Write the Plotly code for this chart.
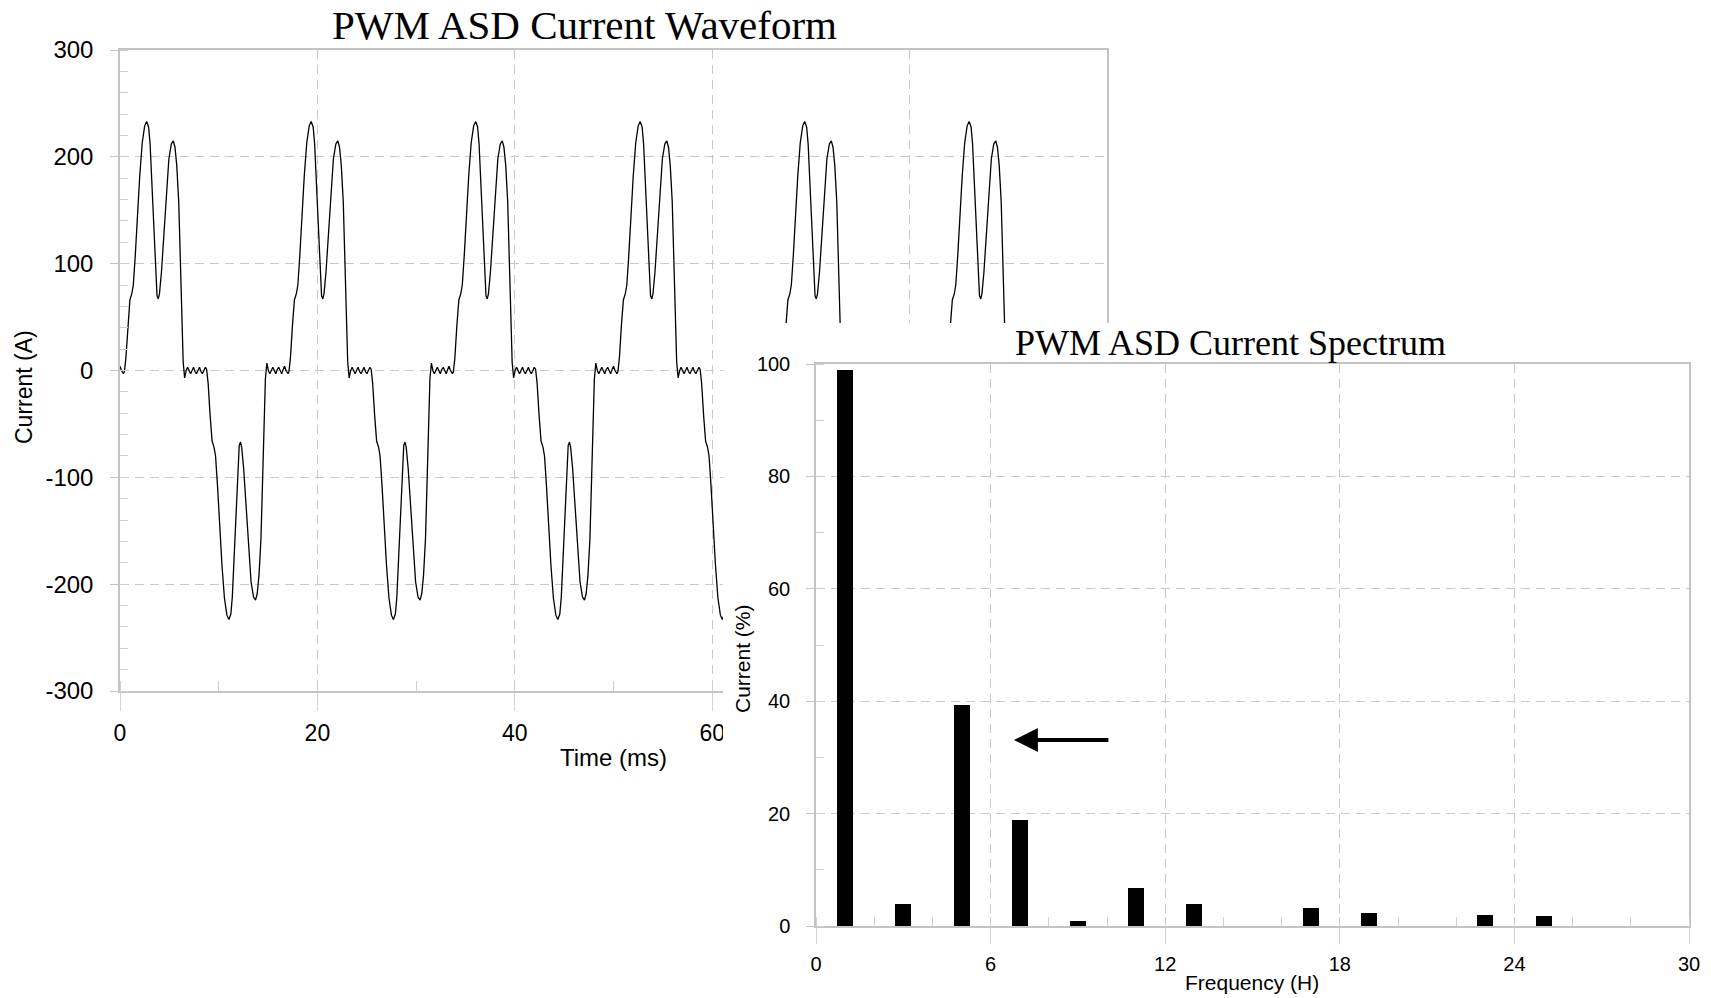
import plotly.graph_objects as go

# ---------------- data ----------------
# One period of the PWM ASD current waveform (time in ms, current in A)
CYCLE_T = [0.00, 0.15, 0.35, 0.45, 0.60, 0.80, 1.00, 1.20, 1.35, 1.55, 1.75, 2.00, 2.25, 2.50,
           2.70, 2.90, 3.05, 3.22, 3.40, 3.60, 3.75, 3.88, 4.00, 4.20, 4.45, 4.70, 4.95, 5.20,
           5.40, 5.57, 5.75, 5.95, 6.10, 6.25, 6.40, 6.55, 6.70, 6.85, 7.00, 7.15, 7.30, 7.45,
           7.60, 7.75, 7.90, 8.05, 8.20, 8.35, 8.50, 8.65, 8.78, 8.93, 9.13, 9.33, 9.53, 9.68,
           9.88, 10.08, 10.33, 10.58, 10.83, 11.03, 11.23, 11.38, 11.55, 11.73, 11.93, 12.08,
           12.21, 12.33, 12.53, 12.78, 13.03, 13.28, 13.53, 13.73, 13.90, 14.08, 14.28, 14.43,
           14.58, 14.73, 14.88, 15.03, 15.18, 15.33, 15.48, 15.63, 15.78, 15.93, 16.08, 16.23,
           16.38, 16.53]
CYCLE_I = [4, 0, -3, -1, 12, 42, 66, 72, 80, 108, 142, 182, 213, 229,
           233, 228, 212, 176, 130, 88, 70, 67, 72, 92, 128, 168, 198, 212,
           215, 209, 192, 158, 110, 55, 8, -7, 0, 3, -1, -3, 0, 3,
           -1, -3, 0, 3, -1, -3, 0, 3, 1, -12, -42, -66, -72, -80,
           -108, -142, -182, -213, -229, -233, -228, -212, -176, -130, -88, -70,
           -67, -72, -92, -128, -168, -198, -212, -215, -209, -192, -158, -110,
           -55, -8, 7, 0, -3, 1, 3, 0, -3, 1, 3, 0,
           -3, 1]
CYCLE_STARTS = [0.0, 16.67, 33.33, 50.0, 66.67, 83.33]
END_T, END_I = 100.0, 4

# Harmonic spectrum (harmonic order, % of fundamental)
HARMONIC = [1, 3, 5, 7, 9, 11, 13, 17, 19, 23, 25]
SPECTRUM_PCT = [99.0, 4.0, 39.3, 18.8, 0.9, 6.8, 3.9, 3.25, 2.4, 1.9, 1.8]

WAVE_XTICKS = [0, 20, 40, 60, 80, 100]
WAVE_XTEXT = ["0", "20", "40", "60", "80", "100"]
WAVE_YTICKS = [-300, -200, -100, 0, 100, 200, 300]
WAVE_YTEXT = ["-300", "-200", "-100", "0", "100", "200", "300"]
SPEC_XTICKS = [0, 6, 12, 18, 24, 30]
SPEC_XTEXT = ["0", "6", "12", "18", "24", "30"]
SPEC_YTICKS = [0, 20, 40, 60, 80, 100]
SPEC_YTEXT = ["0", "20", "40", "60", "80", "100"]

# ---------------- build ----------------
W, H = 1711, 998
def px(x):
    return x / W
def py(y):
    return 1 - y / H

wave_t = [s + t for s in CYCLE_STARTS for t in CYCLE_T] + [END_T]
wave_i = [v for s in CYCLE_STARTS for v in CYCLE_I] + [END_I]

GRID = "#c9c9c9"
AXIS = "#c4c4c4"
SANS = "Liberation Sans, Arial, sans-serif"
SERIF = "Liberation Serif, Times New Roman, serif"

fig = go.Figure()
fig.add_trace(go.Scatter(x=wave_t, y=wave_i, mode="lines",
                         line=dict(color="black", width=1.3),
                         xaxis="x", yaxis="y", showlegend=False, hoverinfo="skip"))
# blank panel that hides part of the waveform chart (the spectrum's background)
fig.add_trace(go.Scatter(x=[0], y=[0], mode="markers", marker=dict(opacity=0),
                         xaxis="x2", yaxis="y2", showlegend=False, hoverinfo="skip"))
fig.add_trace(go.Bar(x=HARMONIC, y=SPECTRUM_PCT, width=0.55,
                     marker=dict(color="black", line=dict(width=0)),
                     xaxis="x3", yaxis="y3", showlegend=False, hoverinfo="skip"))

common_axis = dict(showline=True, linecolor=AXIS, linewidth=1.5, mirror=True,
                   showgrid=True, gridcolor=GRID, gridwidth=1, griddash="9px,6px",
                   zeroline=False, automargin=False, fixedrange=True)

fig.update_layout(
    width=W, height=H, autosize=False, showlegend=False,
    margin=dict(l=0, r=0, t=0, b=0, pad=0, autoexpand=False),
    paper_bgcolor="white", plot_bgcolor="white",
    xaxis=dict(common_axis, domain=[px(120), px(1107)], range=[0, 100], anchor="y",
               tickmode="array", tickvals=WAVE_XTICKS, ticktext=WAVE_XTEXT,
               ticks="outside", ticklen=18, tickcolor="#d4d4d4", tickwidth=1,
               ticklabelstandoff=3, tickfont=dict(family=SANS, size=23, color="black"),
               minor=dict(dtick=10, ticks="inside", ticklen=10, tickcolor="#cfcfcf",
                          tickwidth=1, showgrid=False)),
    yaxis=dict(common_axis, domain=[py(691), py(50)], range=[-300, 300], anchor="x",
               tickmode="array", tickvals=WAVE_YTICKS, ticktext=WAVE_YTEXT,
               ticks="outside", ticklen=8, tickcolor=AXIS, tickwidth=1,
               ticklabelstandoff=12, tickfont=dict(family=SANS, size=24, color="black"),
               minor=dict(dtick=20, ticks="inside", ticklen=8, tickcolor="#cfcfcf",
                          tickwidth=1, showgrid=False)),
    xaxis2=dict(domain=[px(723), 1.0], anchor="y2", visible=False, range=[0, 1],
                fixedrange=True, automargin=False),
    yaxis2=dict(domain=[0.0, py(323)], anchor="x2", visible=False, range=[0, 1],
                fixedrange=True, automargin=False),
    xaxis3=dict(common_axis, domain=[px(816), px(1689)], range=[0, 30], anchor="y3",
                tickmode="array", tickvals=SPEC_XTICKS, ticktext=SPEC_XTEXT,
                ticks="outside", ticklen=16, tickcolor="#d4d4d4", tickwidth=1,
                ticklabelstandoff=3, tickfont=dict(family=SANS, size=20, color="black"),
                minor=dict(dtick=2, ticks="inside", ticklen=9, tickcolor="#cfcfcf",
                           tickwidth=1, showgrid=False)),
    yaxis3=dict(common_axis, domain=[py(926), py(364)], range=[0, 100], anchor="x3",
                tickmode="array", tickvals=SPEC_YTICKS, ticktext=SPEC_YTEXT,
                ticks="outside", ticklen=8, tickcolor=AXIS, tickwidth=1,
                ticklabelstandoff=12, tickfont=dict(family=SANS, size=20, color="black"),
                minor=dict(dtick=10, ticks="inside", ticklen=8, tickcolor="#cfcfcf",
                           tickwidth=1, showgrid=False)),
    bargap=0,
)

ann = []
ann.append(dict(text="PWM ASD Current Waveform", x=px(584), y=py(25), xref="paper", yref="paper",
                showarrow=False, xanchor="center", yanchor="middle",
                font=dict(family=SERIF, size=41, color="black")))
ann.append(dict(text="PWM ASD Current Spectrum", x=px(1230), y=py(343), xref="paper", yref="paper",
                showarrow=False, xanchor="center", yanchor="middle",
                font=dict(family=SERIF, size=36, color="black")))
ann.append(dict(text="Current (A)", x=px(24), y=py(387), xref="paper", yref="paper",
                showarrow=False, xanchor="center", yanchor="middle", textangle=-90,
                font=dict(family=SANS, size=23, color="black")))
ann.append(dict(text="Time (ms)", x=px(613), y=py(757), xref="paper", yref="paper",
                showarrow=False, xanchor="center", yanchor="middle",
                font=dict(family=SANS, size=24, color="black")))
ann.append(dict(text="Current (%)", x=px(742), y=py(659), xref="paper", yref="paper",
                showarrow=False, xanchor="center", yanchor="middle", textangle=-90,
                font=dict(family=SANS, size=21, color="black")))
ann.append(dict(text="Frequency (H)", x=px(1252), y=py(982), xref="paper", yref="paper",
                showarrow=False, xanchor="center", yanchor="middle",
                font=dict(family=SANS, size=21, color="black")))
# arrow pointing at the 5th harmonic
ann.append(dict(text="", x=6.8, y=33.1, ax=10.1, ay=33.1, xref="x3", yref="y3",
                axref="x3", ayref="y3", showarrow=True, arrowhead=2, arrowsize=1.2,
                arrowwidth=4, arrowcolor="black", standoff=0, startstandoff=0))
fig.update_layout(annotations=ann)

fig.write_html("out.html", config={"displayModeBar": False})
